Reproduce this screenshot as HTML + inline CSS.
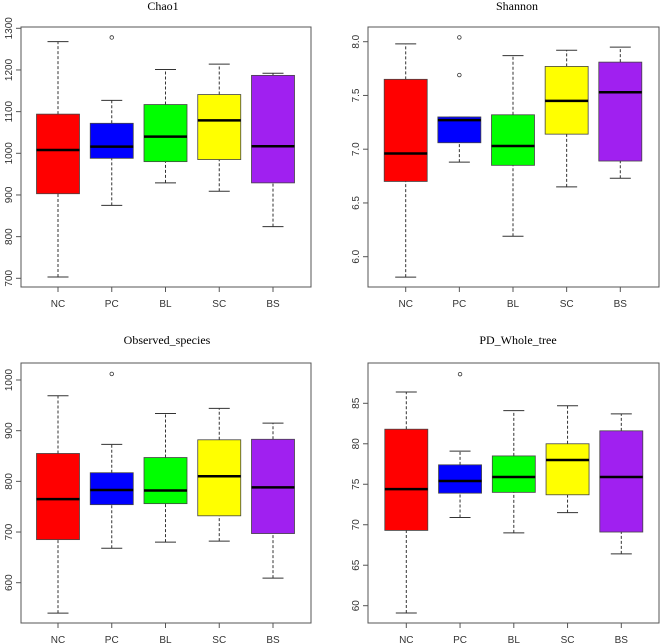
<!DOCTYPE html>
<html><head><meta charset="utf-8"><style>
body{margin:0;background:#fff;width:660px;height:643px;overflow:hidden}
svg{display:block}
text{font-family:"Liberation Sans",sans-serif;fill:#333}
.t{font-family:"Liberation Serif",serif;font-size:12px;fill:#000}
</style></head><body>
<svg id="c" width="660" height="643"></svg>
<script>
const categories=["NC","PC","BL","SC","BS"];
const colors=["#ff0000","#0000ff","#00ff00","#ffff00","#a020f0"];
const chaoStats=[[703,903,1008,1094,1268],[875,988,1016,1072,1127],[929,980,1040,1117,1201],[909,985,1079,1141,1214],[824,929,1017,1187,1192]];
const chaoOut=[[],[1278],[],[],[]];
const chaoTicks=[700,800,900,1000,1100,1200,1300];
const shanStats=[[5.81,6.70,6.96,7.65,7.98],[6.88,7.06,7.27,7.30,7.30],[6.19,6.85,7.03,7.32,7.87],[6.65,7.14,7.45,7.77,7.92],[6.73,6.89,7.53,7.81,7.95]];
const shanOut=[[],[8.04,7.69],[],[],[]];
const shanTicks=["6.0","6.5","7.0","7.5","8.0"];
const obsStats=[[540,685,765,855,969],[668,754,783,817,873],[680,756,782,847,934],[682,732,810,882,944],[609,697,788,883,915]];
const obsOut=[[],[1012],[],[],[]];
const obsTicks=[600,700,800,900,1000];
const pdStats=[[59.1,69.3,74.4,81.8,86.4],[70.9,73.9,75.4,77.4,79.1],[69.0,74.0,75.9,78.5,84.1],[71.5,73.7,78.0,80.0,84.7],[66.4,69.1,75.9,81.6,83.7]];
const pdOut=[[],[88.6],[],[],[]];
const pdTicks=[60,65,70,75,80,85];

const NS="http://www.w3.org/2000/svg";
const svg=document.getElementById('c');
function mk(tag,attrs,parent){const e=document.createElementNS(NS,tag);for(const k in attrs)e.setAttribute(k,attrs[k]);(parent||svg).appendChild(e);return e;}

function panel(p){
  const g=mk('g',{});
  
  
  const y=v=>p.y0+(v-p.v0)*(p.y1-p.y0)/(p.v1-p.v0);
  const x=i=>p.c0+i*p.step;
  const fr=mk('rect',{x:p.bx0,y:p.by0,width:p.bx1-p.bx0,height:p.by1-p.by0,fill:'none',stroke:'#555','stroke-width':1},g);
  
  
  const tt=mk('text',{x:p.tx,y:p.ty,'text-anchor':'middle',class:'t'},g);tt.textContent=p.title;
  
  
  p.ticks.forEach(t=>{const yy=y(parseFloat(t));
    mk('line',{x1:p.bx0-5,x2:p.bx0,y1:yy,y2:yy,stroke:'#555'},g);
    const lt=mk('text',{x:p.bx0-9,y:yy,'font-size':10,'text-anchor':'middle',transform:`rotate(-90 ${p.bx0-9} ${yy})`},g);lt.textContent=t;
    
    
  });
  const hw=21.5,cw=10.5;
  p.stats.forEach((s,i)=>{const cx=x(i);
    const bg=mk('g',{},g);
    
    
    mk('line',{x1:cx,x2:cx,y1:y(s[0]),y2:y(s[1]),stroke:'#333','stroke-dasharray':'3,2'},bg);
    mk('line',{x1:cx,x2:cx,y1:y(s[3]),y2:y(s[4]),stroke:'#333','stroke-dasharray':'3,2'},bg);
    mk('line',{x1:cx-cw,x2:cx+cw,y1:y(s[0]),y2:y(s[0]),stroke:'#333'},bg);
    mk('line',{x1:cx-cw,x2:cx+cw,y1:y(s[4]),y2:y(s[4]),stroke:'#333'},bg);
    mk('rect',{x:cx-hw,y:y(s[3]),width:2*hw,height:y(s[1])-y(s[3]),fill:colors[i],stroke:'#444','stroke-width':0.8},bg);
    mk('line',{x1:cx-hw,x2:cx+hw,y1:y(s[2]),y2:y(s[2]),stroke:'#000','stroke-width':2.5},bg);
    p.out[i].forEach(o=>mk('circle',{cx:cx,cy:y(o),r:1.8,fill:'none',stroke:'#333','stroke-width':0.8},bg));
    mk('line',{x1:cx,x2:cx,y1:p.by1,y2:p.by1+5,stroke:'#555'},g);
    const xl=mk('text',{x:cx,y:p.by1+20,'font-size':10,'text-anchor':'middle'},g);xl.textContent=categories[i];
    
    
  });
}
panel({name:'chao1',title:'Chao1',tx:163,ty:10,bx0:21,bx1:311,by0:27,by1:287,v0:1300,y0:28.3,v1:700,y1:278.3,c0:58,step:53.75,ticks:chaoTicks.map(String),stats:chaoStats,out:chaoOut});
panel({name:'shannon',title:'Shannon',tx:517,ty:10,bx0:368,bx1:659,by0:27,by1:287,v0:8,y0:41.7,v1:6,y1:256.7,c0:405.7,step:53.65,ticks:shanTicks,stats:shanStats,out:shanOut});
panel({name:'observed-species',title:'Observed_species',tx:167,ty:344,bx0:21,bx1:311,by0:363,by1:623,v0:1000,y0:380,v1:600,y1:582.7,c0:58,step:53.75,ticks:obsTicks.map(String),stats:obsStats,out:obsOut});
panel({name:'pd-whole-tree',title:'PD_Whole_tree',tx:518,ty:344,bx0:368,bx1:659,by0:363,by1:623,v0:85,y0:403.3,v1:60,y1:605.7,c0:406.3,step:53.75,ticks:pdTicks.map(String),stats:pdStats,out:pdOut});
</script>
</body></html>
